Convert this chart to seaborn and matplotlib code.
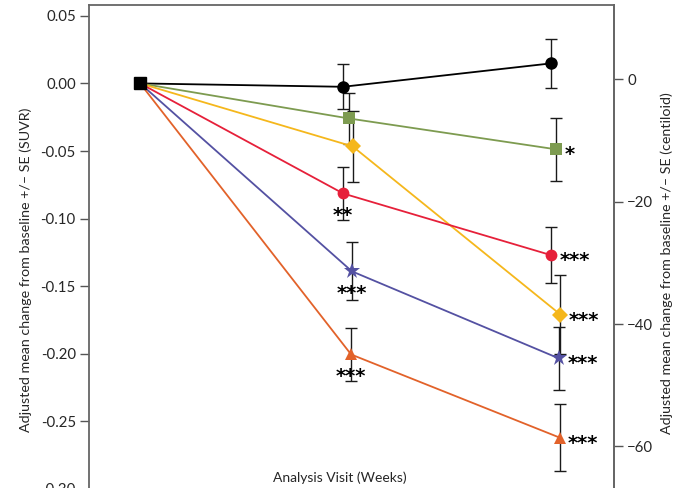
import numpy as np
import pandas as pd
import matplotlib
matplotlib.use("Agg")
import matplotlib.pyplot as plt
import seaborn as sns

# data (SUVR change from baseline, +/- SE)
visits = [0, 26, 52]
groups = ["Placebo", "Group A", "Group B", "Group C", "Group D", "Group E"]
colors = ["#000000", "#7d9b50", "#f5b71c", "#e6203a", "#5451a2", "#e2622a"]
markers = ["o", "s", "D", "o", "*", "^"]
msizes = [9, 8, 8, 8.5, 12, 9]
shift_mid = [-0.6, 0.1, 0.6, -0.6, 0.5, 0.4]
shift_end = [-0.6, 0.1, 0.6, -0.6, 0.4, 0.5]

mean_placebo = [0.0, -0.0025, 0.0148]
mean_a = [0.0, -0.0259, -0.0488]
mean_b = [0.0, -0.0466, -0.1710]
mean_c = [0.0, -0.0814, -0.1270]
mean_d = [0.0, -0.1390, -0.2034]
mean_e = [0.0, -0.2005, -0.2620]
means = [mean_placebo, mean_a, mean_b, mean_c, mean_d, mean_e]

se_placebo = [0.0, 0.0165, 0.0180]
se_a = [0.0, 0.0190, 0.0232]
se_b = [0.0, 0.0260, 0.0290]
se_c = [0.0, 0.0195, 0.0210]
se_d = [0.0, 0.0215, 0.0235]
se_e = [0.0, 0.0195, 0.0245]
ses = [se_placebo, se_a, se_b, se_c, se_d, se_e]

sig_mid = ["", "", "", "**", "***", "***"]
sig_end = ["", "*", "***", "***", "***", "***"]

# SUVR -> centiloid for the right axis
cl_slope = 221.0
cl_zero = 0.003

rows = []
for g, m, s, dm, de in zip(groups, means, ses, shift_mid, shift_end):
    xs = [visits[0], visits[1] + dm, visits[2] + de]
    for x, y, e in zip(xs, m, s):
        rows.append({"group": g, "week": x, "suvr": y, "se": e})
df = pd.DataFrame(rows)

sns.set_theme(style="ticks")
plt.rcParams["font.family"] = ["Lato", "DejaVu Sans"]

fig = plt.figure(figsize=(6.81, 4.88), dpi=100)
ax = fig.add_axes([89 / 681, -14.5 / 488, 525 / 681, 497.5 / 488])

for g, c, mk, ms in zip(groups, colors, markers, msizes):
    d = df[df.group == g]
    ax.errorbar(d.week[1:], d.suvr[1:], yerr=d.se[1:], fmt="none",
                ecolor="#1a1a1a", elinewidth=1.0, capsize=4, capthick=1.0, zorder=2)
    sns.lineplot(data=d, x="week", y="suvr", color=c, marker=mk, markersize=ms,
                 markeredgewidth=0, markevery=[1, 2], linewidth=1.3, ax=ax,
                 estimator=None, sort=False, zorder=3)

ax.plot([0], [0], marker="s", color="black", markersize=8, zorder=5)

for g, sm, se_ in zip(groups, sig_mid, sig_end):
    d = df[df.group == g].reset_index(drop=True)
    if sm:
        ax.annotate(sm, (d.week[1], d.suvr[1]), xytext=(0, -16), textcoords="offset points",
                    ha="center", va="center", fontsize=14, fontweight="bold",
                    family="DejaVu Sans", color="black")
    if se_:
        ax.annotate(se_, (d.week[2], d.suvr[2]), xytext=(6, -4), textcoords="offset points",
                    ha="left", va="center", fontsize=14, fontweight="bold",
                    family="DejaVu Sans", color="black")

ax.set_xlim(-6.4, 59.3)
ax.set_ylim(-0.31, 0.058)
ax.set_yticks([0.05, 0.0, -0.05, -0.10, -0.15, -0.20, -0.25, -0.30])
ax.set_yticklabels(["0.05", "0.00", "-0.05", "-0.10", "-0.15", "-0.20", "-0.25", "-0.30"])
ax.set_xticks([])
ax.set_xlabel("")
ax.set_ylabel("Adjusted mean change from baseline +/\u2013 SE (SUVR)", fontsize=10.3)
ax.yaxis.set_label_coords(-0.109, 0.467)
ax.tick_params(axis="y", labelsize=10.8, length=6.5, width=1, color="#555555", pad=3)

for sp in ax.spines.values():
    sp.set_color("#666666")
    sp.set_linewidth(1.3)

sec = ax.secondary_yaxis("right", functions=(lambda v: cl_slope * (v - cl_zero),
                                             lambda c: c / cl_slope + cl_zero))
sec.set_yticks([0, -20, -40, -60])
sec.tick_params(labelsize=10.8, length=6.5, width=1, color="#555555", pad=3)
sec.spines["right"].set_color("#666666")
sec.spines["right"].set_linewidth(1.3)
sec.set_ylabel("Adjusted mean change from baseline +/\u2013 SE (centiloid)", fontsize=10.3)
sec.yaxis.set_label_coords(1.088, 0.482, transform=ax.transAxes)

fig.text(340 / 681, 1 - 478 / 488, "Analysis Visit (Weeks)", ha="center", va="center",
         fontsize=10)

fig.savefig("out.png", dpi=100)
